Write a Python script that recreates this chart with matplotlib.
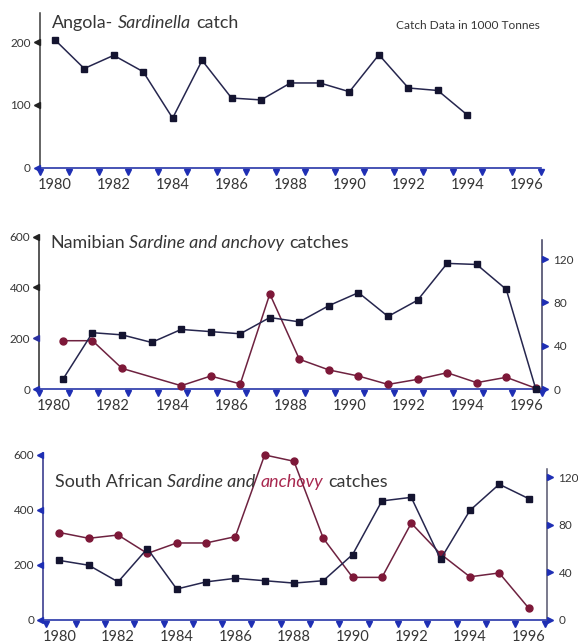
import numpy as np
import matplotlib.pyplot as plt
from matplotlib.transforms import ScaledTranslation

plt.rcParams['font.family'] = ['Lato', 'DejaVu Sans']

# ---- data (catch in 1000 tonnes) ----
angola_years = np.arange(1980, 1995)
angola_sardinella = [204, 158, 179, 153, 79, 171, 111, 108, 135, 135, 121, 180, 127, 123, 84]

years = np.arange(1980, 1997)
namibia_sardine = [9, 52, 50, 43, 55, 53, 51, 66, 62, 77, 89, 67, 82, 116, 115, 92, 0]
namibia_anchovy_years = [1980, 1981, 1982, 1984, 1985, 1986, 1987, 1988, 1989,
                         1990, 1991, 1992, 1993, 1994, 1995, 1996]
namibia_anchovy = [190, 190, 81, 13, 51, 20, 374, 117, 75, 51, 18, 38, 64, 25, 46, 3]

sa_sardine = [50, 46, 32, 60, 26, 32, 35, 33, 31, 33, 55, 100, 103, 51, 92, 114, 102]
sa_anchovy = [318, 297, 309, 242, 280, 280, 303, 600, 577, 297, 155, 155, 352, 240, 157, 171, 44]

label_years = [1980, 1982, 1984, 1986, 1988, 1990, 1992, 1994, 1996]
year_labels = [str(y) for y in label_years]
left_ticks_angola = [0, 100, 200]
left_ticks = [0, 200, 400, 600]
right_ticks = [0, 40, 80, 120]

# ---- styling ----
W, H = 578, 643
TEXT = '#363636'
AXIS_BLUE = '#2836a8'
TICK_BLUE = '#1f2fb4'
SQ_LINE = '#26264e'
SQ_MARK = '#141430'
CI_LINE = '#6e2240'
CI_MARK = '#7d1838'

fig = plt.figure(figsize=(W / 100, H / 100), dpi=100)
fig.patch.set_facecolor('white')


def px_axes(left, top, right, bottom):
    return fig.add_axes([left / W, 1 - bottom / H, (right - left) / W, (bottom - top) / H])


def off(dx_px, dy_px):
    return ScaledTranslation(dx_px / 100, dy_px / 100, fig.dpi_scale_trans)


def frame(ax, xlim, ylim, yticks, tick_start, left_color, left_tick_colors):
    ax.set_xlim(*xlim)
    ax.set_ylim(*ylim)
    ax.set_facecolor('none')
    for s in ('top', 'right'):
        ax.spines[s].set_visible(False)
    ax.spines['bottom'].set_color(AXIS_BLUE)
    ax.spines['bottom'].set_linewidth(1.2)
    ax.spines['left'].set_color(left_color)
    ax.spines['left'].set_linewidth(1.1)
    ax.set_xticks(label_years, year_labels)
    ax.set_yticks(yticks)
    ax.tick_params(axis='x', length=0, pad=7.5, labelsize=10.5, labelcolor=TEXT)
    ax.tick_params(axis='y', length=0, pad=6.5, labelsize=8.5, labelcolor=TEXT)
    # triangular tick marks between the years
    tx = np.arange(tick_start, xlim[1] + 0.01, 1.0)
    ax.plot(tx, np.zeros_like(tx), ls='none', marker='v', ms=4.2, color=TICK_BLUE,
            transform=ax.get_xaxis_transform() + off(0, -4), clip_on=False, zorder=5)
    for yv, c in zip(yticks, left_tick_colors):
        ax.plot([0], [yv], ls='none', marker='<', ms=4.2, color=c,
                transform=ax.get_yaxis_transform() + off(-3, 0), clip_on=False, zorder=5)


def right_axis(ax, ylim, bound_top, color):
    ax2 = ax.twinx()
    ax2.set_ylim(*ylim)
    for s in ('top', 'left', 'bottom'):
        ax2.spines[s].set_visible(False)
    ax2.spines['right'].set_color(color)
    ax2.spines['right'].set_linewidth(1.1)
    ax2.spines['right'].set_bounds(0, bound_top)
    ax2.set_yticks(right_ticks)
    ax2.tick_params(axis='y', length=0, pad=8.5, labelsize=8.5, labelcolor=TEXT)
    for yv in right_ticks:
        ax2.plot([1], [yv], ls='none', marker='>', ms=4.2, color=TICK_BLUE,
                 transform=ax2.get_yaxis_transform() + off(3, 0), clip_on=False, zorder=5)
    return ax2


def squares(ax, x, y):
    ax.plot(x, y, color=SQ_LINE, lw=1.1, marker='s', ms=4.6,
            mfc=SQ_MARK, mec=SQ_MARK, clip_on=False, zorder=4)


def circles(ax, x, y):
    ax.plot(x, y, color=CI_LINE, lw=1.1, marker='o', ms=5.0,
            mfc=CI_MARK, mec=CI_MARK, clip_on=False, zorder=3)


def chained_title(ax, x_px, base_px, parts, size=12.9):
    """Write a title made of differently styled pieces, one after another."""
    first_txt, first_style, first_color = parts[0]
    prev = fig.text(x_px / W, 1 - base_px / H, first_txt, fontsize=size,
                    style=first_style, color=first_color, va='baseline', ha='left')
    for txt, style, color in parts[1:]:
        prev = ax.annotate(txt, xy=(1, 0), xycoords=prev, xytext=(size * 0.27, 0),
                           textcoords='offset points', fontsize=size, style=style,
                           color=color, va='bottom', ha='left', annotation_clip=False)


# ---- Angola ----
ax1 = px_axes(40, 13.3, 541, 167.7)
frame(ax1, (1979.5, 1996.5), (0, 246), left_ticks_angola, 1979.5, '#3a3a3a',
      ['#1f2fb4', '#222222', '#222222'])
squares(ax1, angola_years, angola_sardinella)
fig.text(396 / W, 1 - 29.3 / H, 'Catch Data in 1000 Tonnes', fontsize=8.6,
         color=TEXT, va='baseline', ha='left')

# ---- Namibia ----
ax2 = px_axes(39.3, 236, 541.7, 389)
frame(ax2, (1979.5, 1996.5), (0, 602), left_ticks, 1979.5, '#2a2a2a',
      ['#1f2fb4', '#2a30a0', '#222222', '#222222'])
ax2r = right_axis(ax2, (0, 141.3), 138, '#3c3c5e')
shift = 0.3
circles(ax2, np.asarray(namibia_anchovy_years) + shift, namibia_anchovy)
squares(ax2r, years + shift, namibia_sardine)

# ---- South Africa ----
ax3 = px_axes(43.3, 453.3, 546.7, 620)
frame(ax3, (1979.45, 1996.62), (0, 606), left_ticks, 1979.55, '#2b2d86',
      ['#1f2fb4', '#1f2fb4', '#1f2fb4', '#1f2fb4'])
ax3r = right_axis(ax3, (0, 140), 127, '#55556e')
circles(ax3, years, sa_anchovy)
squares(ax3r, years, sa_sardine)

# ---- titles ----
chained_title(ax1, 51.7, 28.3, [('Angola-', 'normal', TEXT),
                                ('Sardinella', 'italic', TEXT),
                                ('catch', 'normal', TEXT)])
chained_title(ax2, 50, 248.3, [('Namibian', 'normal', TEXT),
                               ('Sardine and anchovy', 'italic', TEXT),
                               ('catches', 'normal', TEXT)])
chained_title(ax3, 55, 486.7, [('South African', 'normal', TEXT),
                               ('Sardine and', 'italic', TEXT),
                               ('anchovy', 'italic', '#a8284f'),
                               ('catches', 'normal', TEXT)])

fig.savefig('out.png', dpi=100, facecolor='white')
